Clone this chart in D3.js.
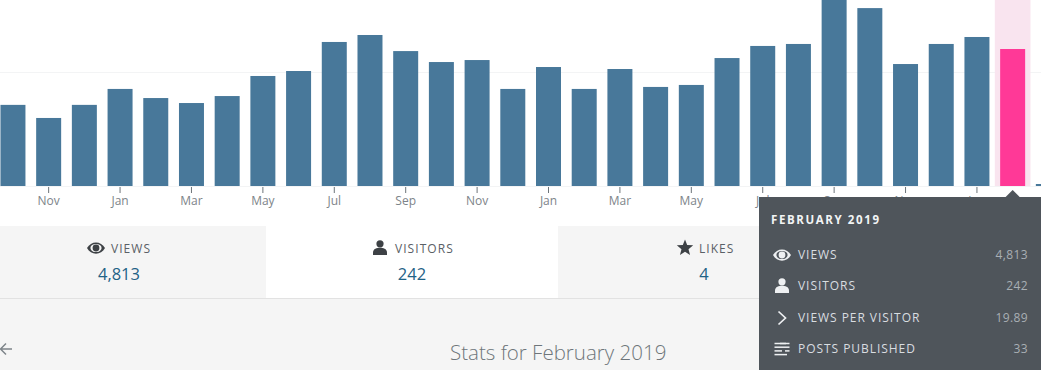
<!DOCTYPE html>
<html>
<head>
<meta charset="utf-8">
<title>Stats for February 2019</title>
<script src="https://cdn.jsdelivr.net/npm/d3@7"></script>
<style>
    html, body { margin: 0; padding: 0; background: #fff; overflow: hidden; }
    svg { display: block; }
    text { font-family: "Open Sans", sans-serif; }
</style>
</head>
<body>
<div id="chart"></div>
<script>
// Chart data
const months = [
    '2016-10', '2016-11', '2016-12', '2017-01', '2017-02', '2017-03', '2017-04', '2017-05',
    '2017-06', '2017-07', '2017-08', '2017-09', '2017-10', '2017-11', '2017-12', '2018-01',
    '2018-02', '2018-03', '2018-04', '2018-05', '2018-06', '2018-07', '2018-08', '2018-09',
    '2018-10', '2018-11', '2018-12', '2019-01', '2019-02', '2019-03'
];
const views = [
    2850, 2390, 2850, 3410, 3090, 2915, 3160, 3865,
    4040, 5060, 5305, 4740, 4355, 4425, 3410, 4180,
    3410, 4110, 3480, 3550, 4495, 4920, 4990, 6700,
    6250, 4285, 4990, 5235, 4813, 70
];
const monthNames = ['Jan', 'Feb', 'Mar', 'Apr', 'May', 'Jun', 'Jul', 'Aug', 'Sep', 'Oct', 'Nov', 'Dec'];
const selectedMonth = '2019-02';
const gridValues = [4000];

const statLabels = ['VIEWS', 'VISITORS', 'LIKES'];
const statValues = ['4,813', '242', '4'];

const tooltipTitle = 'FEBRUARY 2019';
const tooltipLabels = ['VIEWS', 'VISITORS', 'VIEWS PER VISITOR', 'POSTS PUBLISHED'];
const tooltipValues = ['4,813', '242', '19.89', '33'];

const pageTitle = 'Stats for February 2019';

//////////////////////////////////////////////////////////////////////
// Icons, drawn around (0,0)
//////////////////////////////////////////////////////////////////////
function _drawEye(g, color, bg) {
    g.append('path')
        .attr('d', 'M-9,0 C-5,-7.5 5,-7.5 9,0 C5,7.5 -5,7.5 -9,0 Z')
        .attr('fill', color);
    g.append('ellipse').attr('rx', 5.6).attr('ry', 4.1).attr('fill', bg);
    g.append('circle').attr('r', 3.4).attr('fill', color);
}

function _drawPerson(g, color) {
    g.append('circle').attr('cy', -4.2).attr('r', 3.6).attr('fill', color);
    g.append('path')
        .attr('d', 'M-7,7 L-7,4.5 C-7,0.8 -3,-0.2 0,-0.2 C3,-0.2 7,0.8 7,4.5 L7,7 Z')
        .attr('fill', color);
}

function _drawStar(g, color) {
    const points = d3.range(10).map(i => {
        const r = i % 2 ? 3.7 : 8.6;
        const a = i * Math.PI / 5;
        return [r * Math.sin(a), -r * Math.cos(a)];
    });
    g.append('polygon').attr('points', points.join(' ')).attr('fill', color);
}

function _drawChevron(g, color) {
    g.append('path')
        .attr('d', 'M-3.5,-6.5 L3.5,0 L-3.5,6.5')
        .attr('fill', 'none')
        .attr('stroke', color)
        .attr('stroke-width', 1.7);
}

function _drawPosts(g, color) {
    const rows = [[-7.5, 4, -2, 7.5], [-7.5, 7.5], [-7.5, 0, 3, 7.5], [-7.5, 5]];
    rows.forEach((row, i) => {
        for (let j = 0; j < row.length; j += 2) {
            g.append('line')
                .attr('x1', row[j]).attr('x2', row[j + 1])
                .attr('y1', -5.5 + i * 3.7).attr('y2', -5.5 + i * 3.7)
                .attr('stroke', color)
                .attr('stroke-width', 1.5);
        }
    });
}

//////////////////////////////////////////////////////////////////////
// Draw the page
//////////////////////////////////////////////////////////////////////
function drawChart() {
    const width = 1041;
    const height = 370;

    const svg = d3.select('#chart')
        .append('svg')
        .attr('width', width)
        .attr('height', height);

    // Background below the chart
    svg.append('rect')
        .attr('y', 298).attr('width', width).attr('height', height - 298)
        .attr('fill', '#f5f5f5');

    const x = d3.scaleBand()
        .domain(months)
        .range([-4.9, 1066.2])
        .paddingInner(0.3)
        .paddingOuter(0.15);

    const y = d3.scaleLinear()
        .domain([0, 4813])
        .range([186, 49]);

    // Grid lines
    svg.selectAll('.grid')
        .data([0, ...gridValues])
        .enter()
        .append('line')
        .attr('class', 'grid')
        .attr('x1', 0).attr('x2', width)
        .attr('y1', d => Math.round(y(d)) + 0.5)
        .attr('y2', d => Math.round(y(d)) + 0.5)
        .attr('stroke', '#f3f4f5');

    // Highlight behind the selected month
    const step = x.step();
    svg.append('rect')
        .attr('x', x(selectedMonth) - (step - x.bandwidth()) / 2)
        .attr('y', 0)
        .attr('width', step)
        .attr('height', 186)
        .attr('fill', '#f9e4ef');

    // Bars
    svg.selectAll('.bar')
        .data(months)
        .enter()
        .append('rect')
        .attr('class', 'bar')
        .attr('x', d => x(d))
        .attr('width', x.bandwidth())
        .attr('y', (d, i) => y(views[i]))
        .attr('height', (d, i) => y(0) - y(views[i]))
        .attr('fill', d => d === selectedMonth ? '#ff3997' : '#48789a');

    // X axis: every second month, the last one falls outside the picture
    const axis = svg.append('g')
        .attr('transform', 'translate(0,187)')
        .call(d3.axisBottom(x)
            .tickValues(months.filter((d, i) => i % 2 === 1 && i < 29))
            .tickSize(6)
            .tickPadding(3)
            .tickFormat(d => monthNames[+d.slice(5) - 1]));
    axis.select('.domain').remove();
    axis.selectAll('.tick line').attr('stroke', '#6d7479');
    axis.selectAll('.tick text')
        .attr('fill', '#7d8489')
        .style('font-size', '12px')
        .style('font-family', '"Open Sans", sans-serif');

    // Stat tabs
    const tabEdges = [0, 266, 558, 850];
    const tabCentres = [119, 412, 704];
    const tabIconX = [96, 380, 685];
    const tabFills = ['#f5f5f5', '#ffffff', '#f5f5f5'];
    const tabIcons = [
        g => _drawEye(g, '#3d4145', '#f5f5f5'),
        g => _drawPerson(g, '#3d4145'),
        g => _drawStar(g, '#3d4145')
    ];
    statLabels.forEach((label, i) => {
        svg.append('rect')
            .attr('x', tabEdges[i]).attr('y', 226)
            .attr('width', tabEdges[i + 1] - tabEdges[i]).attr('height', 72)
            .attr('fill', tabFills[i]);
        tabIcons[i](svg.append('g').attr('transform', `translate(${tabIconX[i]},248)`));
        svg.append('text')
            .attr('x', tabIconX[i] + (i === 2 ? 14 : 15))
            .attr('y', 253)
            .attr('fill', '#5a6066')
            .style('font-size', '12px')
            .style('letter-spacing', '1.05px')
            .text(label);
        svg.append('text')
            .attr('x', tabCentres[i])
            .attr('y', 280)
            .attr('text-anchor', 'middle')
            .attr('fill', '#1f6286')
            .style('font-size', '16.5px')
            .text(statValues[i]);
    });
    svg.append('line')
        .attr('x1', 0).attr('x2', width)
        .attr('y1', 298.5).attr('y2', 298.5)
        .attr('stroke', '#e2e2e2');

    // Back arrow and page title
    svg.append('path')
        .attr('d', 'M12,349 L0.5,349 M6,343.5 L0.5,349 L6,354.5')
        .attr('fill', 'none')
        .attr('stroke', '#7d8489')
        .attr('stroke-width', 1.5);
    svg.append('text')
        .attr('x', 450)
        .attr('y', 360)
        .attr('fill', '#6e757a')
        .style('font-size', '20.5px')
        .style('font-weight', 300)
        .text(pageTitle);

    // Tooltip
    const tipCentre = x(selectedMonth) + x.bandwidth() / 2;
    const tip = svg.append('g');
    tip.append('path')
        .attr('d', `M${tipCentre - 7},197 L${tipCentre},190 L${tipCentre + 7},197 Z`)
        .attr('fill', '#4f555b');
    tip.append('rect')
        .attr('x', 759).attr('y', 197)
        .attr('width', width - 759).attr('height', height - 197)
        .attr('fill', '#4f555b');
    tip.append('text')
        .attr('x', 771)
        .attr('y', 224)
        .attr('fill', '#f2f4f5')
        .style('font-size', '11.5px')
        .style('font-weight', 700)
        .style('letter-spacing', '1.6px')
        .text(tooltipTitle);

    const rowY = [255, 286, 318, 349];
    const tipIcons = [
        g => _drawEye(g, '#eef0f2', '#4f555b'),
        g => _drawPerson(g, '#eef0f2'),
        g => _drawChevron(g, '#eef0f2'),
        g => _drawPosts(g, '#eef0f2')
    ];
    tooltipLabels.forEach((label, i) => {
        tipIcons[i](tip.append('g').attr('transform', `translate(782,${rowY[i]})`));
        tip.append('text')
            .attr('x', 798)
            .attr('y', rowY[i] + 4)
            .attr('fill', '#d9dde0')
            .style('font-size', '12px')
            .style('letter-spacing', '0.95px')
            .text(label);
        tip.append('text')
            .attr('x', 1028)
            .attr('y', rowY[i] + 4)
            .attr('text-anchor', 'end')
            .attr('fill', '#a9afb4')
            .style('font-size', '12px')
            .style('letter-spacing', '0.4px')
            .text(tooltipValues[i]);
    });
}

document.addEventListener('DOMContentLoaded', drawChart);
</script>
</body>
</html>
